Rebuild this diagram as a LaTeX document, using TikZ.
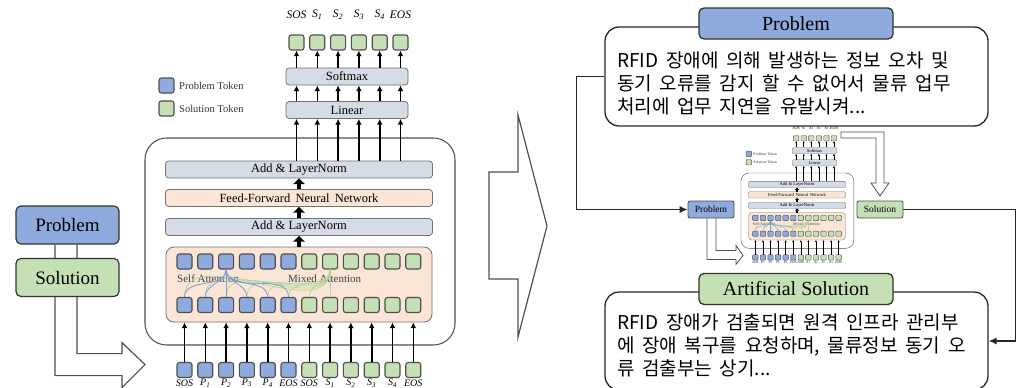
\documentclass[tikz,border=0pt]{standalone}
\usepackage{fontspec}
\setmainfont{Liberation Serif}
\newfontfamily\krfont[WordSpace=1.8]{Noto Sans CJK KR}
\usetikzlibrary{arrows.meta}

\definecolor{ptok}{HTML}{8FAADC}
\definecolor{stok}{HTML}{C5E0B4}
\definecolor{laygray}{HTML}{D6DCE5}
\definecolor{peach}{HTML}{FBE5D6}
\definecolor{edge}{HTML}{4F4F4F}
\definecolor{selfatt}{HTML}{7B9BD6}
\definecolor{mixatt}{HTML}{B4D89C}

% base line width of the decoder drawing (the small copy sets its own)
\def\decolw{0.8pt}

\tikzset{
  token/.style={draw=edge, line width=1.4*\decolw, rounded corners=3*\decolw,
    minimum size=15pt, inner sep=0pt},
  layer/.style={draw=edge!80, line width=\decolw, rounded corners=4*\decolw,
    minimum width=267pt, minimum height=17pt, inner sep=0pt,
    font=\fontsize{12.5}{13}\selectfont},
  outer/.style={draw=edge, line width=1.3*\decolw, rounded corners=27*\decolw,
    minimum width=310pt, minimum height=207pt, inner sep=0pt},
  attbox/.style={draw=edge!80, line width=\decolw, fill=peach, rounded corners=10*\decolw,
    minimum width=266pt, minimum height=75pt, inner sep=0pt},
  tokarrow/.style={line width=2*\decolw, -{Latex[length=0pt 3.5, width=0pt 3.5]}},
  fatarrow/.style={line width=4*\decolw, -{Triangle[length=0pt 1.8, width=0pt 3.6]}},
  tokname/.style={inner sep=0pt, font=\fontsize{11.5}{12}\selectfont\itshape},
  attlabel/.style={anchor=west, inner sep=0pt, text=black!75, font=\fontsize{11}{12}\selectfont},
  legend/.style={anchor=west, inner sep=0pt, text=black!80, font=\fontsize{10.5}{12}\selectfont},
  selfline/.style={draw=selfatt, line width=\decolw},
  mixline/.style={draw=mixatt, line width=\decolw},
  bigbox/.style={draw=black!80, line width=1.2pt, rounded corners=5pt, inner sep=0pt,
    minimum width=103pt, minimum height=38pt, font=\fontsize{19}{20}\selectfont},
  smallbox/.style={draw=black!70, line width=0.8pt, rounded corners=2pt, inner sep=0pt,
    minimum width=46pt, minimum height=17pt, font=\fontsize{9.5}{10}\selectfont},
  textbox/.style={draw=black!85, line width=1.3pt, rounded corners=14pt, inner sep=0pt,
    minimum width=383pt},
  titlebox/.style={draw=black!80, line width=1.3pt, rounded corners=5pt, inner sep=0pt,
    minimum width=194pt, minimum height=31pt, font=\fontsize{20}{22}\selectfont},
  krline/.style={anchor=base west, inner sep=0pt, font=\krfont\fontsize{19}{23}\selectfont},
  hollow/.style={draw=edge, line width=1.2pt, line join=miter},
  conn/.style={draw=black!85, line width=1.2pt, -{Latex[length=8pt, width=7pt]}},
  pics/decoder/.style={code={
    % decoder layer
    \node[outer] (-blk) at (155,103.5) {};
    \node[layer, fill=laygray] (-ln2) at (154,31.5) {Add \& LayerNorm};
    \node[layer, fill=peach] (-ffn) at (154,60) {Feed-Forward \,Neural \,Network};
    \node[layer, fill=laygray] (-ln1) at (154,89) {Add \& LayerNorm};
    \node[attbox] (-att) at (154,146.5) {};
    \draw[fatarrow] (-att.north) -- (-ln1.south);
    \draw[fatarrow] (-ln1.north) -- (-ffn.south);
    \draw[fatarrow] (-ffn.north) -- (-ln2.south);
    \node[attlabel] (-sa) at (32,141) {Self Attention};
    \node[attlabel] (-ma) at (143,141) {Mixed Attention};
    % tokens: attention rows and inputs
    \foreach \i/\c/\lab in {1/ptok/SOS, 2/ptok/P\textsubscript{1}, 3/ptok/P\textsubscript{2},
        4/ptok/P\textsubscript{3}, 5/ptok/P\textsubscript{4}, 6/ptok/EOS, 7/stok/SOS,
        8/stok/S\textsubscript{1}, 9/stok/S\textsubscript{2}, 10/stok/S\textsubscript{3},
        11/stok/S\textsubscript{4}, 12/stok/EOS}{
      \node[token, fill=\c] (-a\i) at ({39.5+20.8*(\i-1)},123.5) {};
      \node[token, fill=\c] (-b\i) at ({39.5+20.8*(\i-1)},167) {};
      \node[token, fill=\c] (-i\i) at ({39.5+20.8*(\i-1)},232) {};
      \node[tokname, font=\fontsize{10}{10}\selectfont\itshape] (-n\i)
        at ({39.5+20.8*(\i-1)},245) {\lab};
      \draw[tokarrow] (-i\i.north) -- (-i\i.north |- -att.south);
    }
    \foreach \k in {1,...,7}
      \draw[mixline] (-b\k.north) to[out=90, in=-90] (-a8.south);
    \draw[mixline, -{Latex[length=3pt, width=3pt]}] (-b8.north) -- (-a8.south);
    \foreach \k in {1,2,4,5,6}
      \draw[selfline] (-b\k.north) to[out=90, in=-90] (-a3.south);
    \draw[selfline, -{Latex[length=3pt, width=3pt]}] (-b3.north) -- (-a3.south);
    % output head
    \node[layer, fill=laygray, minimum width=122pt] (-lin) at (202,-28) {Linear};
    \node[layer, fill=laygray, minimum width=122pt] (-soft) at (202,-61.5) {Softmax};
    \foreach \j/\lab in {1/SOS, 2/S\textsubscript{1}, 3/S\textsubscript{2},
        4/S\textsubscript{3}, 5/S\textsubscript{4}, 6/EOS}{
      \node[token, fill=stok] (-o\j) at ({151.5+20.8*(\j-1)},-95.5) {};
      \node[tokname] (-on\j) at ({151.5+20.8*(\j-1)},-123) {\lab};
      \draw[tokarrow] (-ln2.north -| -o\j) -- (-lin.south -| -o\j);
      \draw[tokarrow] (-lin.north -| -o\j) -- (-soft.south -| -o\j);
      \draw[tokarrow] (-soft.north -| -o\j) -- (-o\j.south);
    }
    % legend
    \node[token, fill=ptok] (-lp) at (21.5,-52.5) {};
    \node[legend] (-lpt) at (34,-52.5) {Problem Token};
    \node[token, fill=stok] (-ls) at (21.5,-29.5) {};
    \node[legend] (-lst) at (34,-29.5) {Solution Token};
  }}
}

\begin{document}
\begin{tikzpicture}[x=1pt, y=-1pt]
\useasboundingbox (0,0) rectangle (1020,388);

% left: training pair fed into the decoder
\node[bigbox, fill=ptok] (lprob) at (67.5,225) {Problem};
\draw[hollow] ([xshift=-12.5pt]lprob.south) -- ++(0,131) -- ++(67,0) -- ++(0,12)
  -- ++(23,-23) -- ++(-23,-22) -- ++(0,11) -- ++(-45,0) -- ++(0,-109);
\node[bigbox, fill=stok] (lsol) at (67.5,277.5) {Solution};

\pic (big) at (145,138) {decoder};

% big arrow in the middle
\draw[hollow] (489,172) -- (518,172) -- (518,115) -- (547,226) -- (518,337)
  -- (518,279) -- (489,279) -- cycle;

% right: inference example
\node[textbox, minimum height=99pt] (pbox) at (796.5,76.5) {};
\node[titlebox, fill=ptok] (ptitle) at (796,23.5) {Problem};
\node[krline] (pl1) at (617,67.5) {RFID 장애에 의해 발생하는 정보 오차 및};
\node[krline] (pl2) at (617,90.5) {동기 오류를 감지 할 수 없어서 물류 업무};
\node[krline] (pl3) at (617,113.5) {처리에 업무 지연을 유발시켜...};

\begin{scope}[shift={(741,173)}, scale=0.364, transform shape]
  \def\decolw{0.3pt}
  \pic (mini) at (0,0) {decoder};
\end{scope}

\node[smallbox, fill=ptok] (mprob) at (711,209.5) {Problem};
\node[smallbox, fill=stok] (msol) at (880,209.5) {Solution};
\draw[hollow, line width=0.8pt] ([xshift=-4pt]mprob.south) -- ++(0,41) -- ++(29,0)
  -- ++(0,5) -- ++(7,-9) -- ++(-7,-10) -- ++(0,5) -- ++(-20,0) -- ++(0,-32);
\draw[hollow, line width=0.8pt] (841,132) -- (884,132) -- (884,183) -- (889,183)
  -- (880,196) -- (871,183) -- (876,183) -- (876,138) -- (841,138) -- cycle;

\node[textbox, minimum height=98pt] (sbox) at (796.5,341) {};
\node[titlebox, fill=stok] (stitle) at (796,289) {Artificial Solution};
\node[krline] (sl1) at (617,329) {RFID 장애가 검출되면 원격 인프라 관리부};
\node[krline] (sl2) at (617,352.5) {에 장애 복구를 요청하며, 물류정보 동기 오};
\node[krline] (sl3) at (617,375.5) {류 검출부는 상기...};

\draw[conn] (pbox.west) -- ++(-28,0) |- (mprob.west);
\draw[conn] (msol.east) -- ++(112,0) |- (sbox.east);
\end{tikzpicture}
\end{document}
